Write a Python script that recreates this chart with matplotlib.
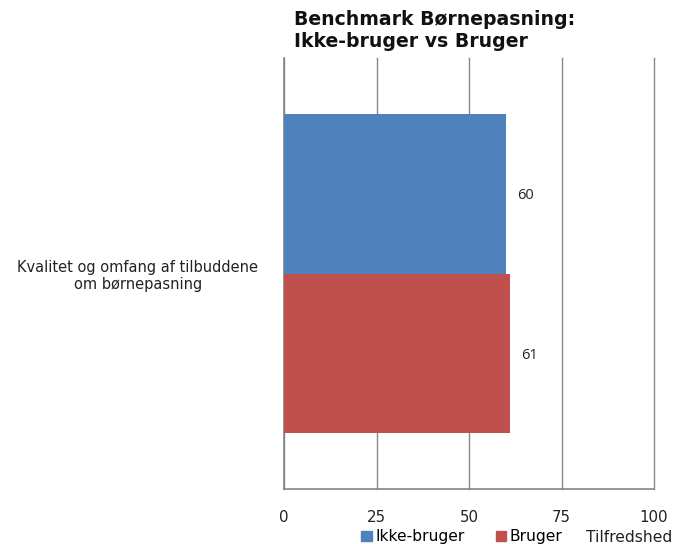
import matplotlib
matplotlib.use("Agg")
import matplotlib.pyplot as plt
from matplotlib.patches import Patch

categories = ["Kvalitet og omfang af tilbuddene\nom børnepasning"]
series_names = ["Ikke-bruger", "Bruger"]
ikke_bruger = [60]
bruger = [61]
colors = ["#4F81BD", "#C0504D"]
xticks = [0, 25, 50, 75, 100]
title = "Benchmark Børnepasning:\nIkke-bruger vs Bruger"
xlabel = "Tilfredshed"

fig = plt.figure(figsize=(6.84, 5.44), dpi=100)
ax = fig.add_axes([284/684, 1-489/544, (654-284)/684, (489-58)/544])

bh = 0.37
off = 0.185
y0 = 0
b1 = ax.barh(y0 + off, ikke_bruger[0], height=bh, color=colors[0], zorder=3)
b2 = ax.barh(y0 - off, bruger[0], height=bh, color=colors[1], zorder=3)

for bars, vals in ((b1, ikke_bruger), (b2, bruger)):
    for r, v in zip(bars, vals):
        ax.annotate(f"{v}", (r.get_width(), r.get_y() + r.get_height()/2),
                    xytext=(8, -1.5), textcoords="offset points",
                    ha="left", va="center", fontsize=10.5, family="Open Sans",
                    color="#222222")

ax.set_xlim(0, 100)
ax.set_ylim(-0.5, 0.5)
ax.set_xticks(xticks)
ax.set_xticklabels([str(t) for t in xticks], fontsize=10.8, color="#222222")
ax.tick_params(axis="x", length=0, pad=15)
ax.set_yticks([0])
ax.set_yticklabels(categories, fontsize=10.5, color="#222222", ha="center")
ax.tick_params(axis="y", length=0, pad=0)
for lab in ax.get_yticklabels():
    lab.set_x(-146/370)
ax.grid(axis="x", color="#868686", linewidth=1, zorder=0)
for gl in ax.get_xgridlines():
    gl.set_clip_on(False)
for s in ("top", "right"):
    ax.spines[s].set_visible(False)
for s in ("left", "bottom"):
    ax.spines[s].set_color("#868686")
    ax.spines[s].set_linewidth(1.2)

fig.text(294/684, 1-10/544, title, fontsize=13.6, fontweight="bold",
         ha="left", va="top", linespacing=1.2, color="#111111")

fig.text(672/684, 1-537/544, xlabel, fontsize=11.2, ha="right", va="center",
         color="#222222")

handles = [Patch(color=c) for c in colors]
fig.legend(handles, series_names, loc="center", bbox_to_anchor=(462/684, 1-537/544),
           ncol=2, frameon=False, fontsize=11.2, handlelength=0.65,
           handleheight=0.65, handletextpad=0.25, columnspacing=2.0,
           borderpad=0)

fig.savefig("out.png", dpi=100, facecolor="white")
